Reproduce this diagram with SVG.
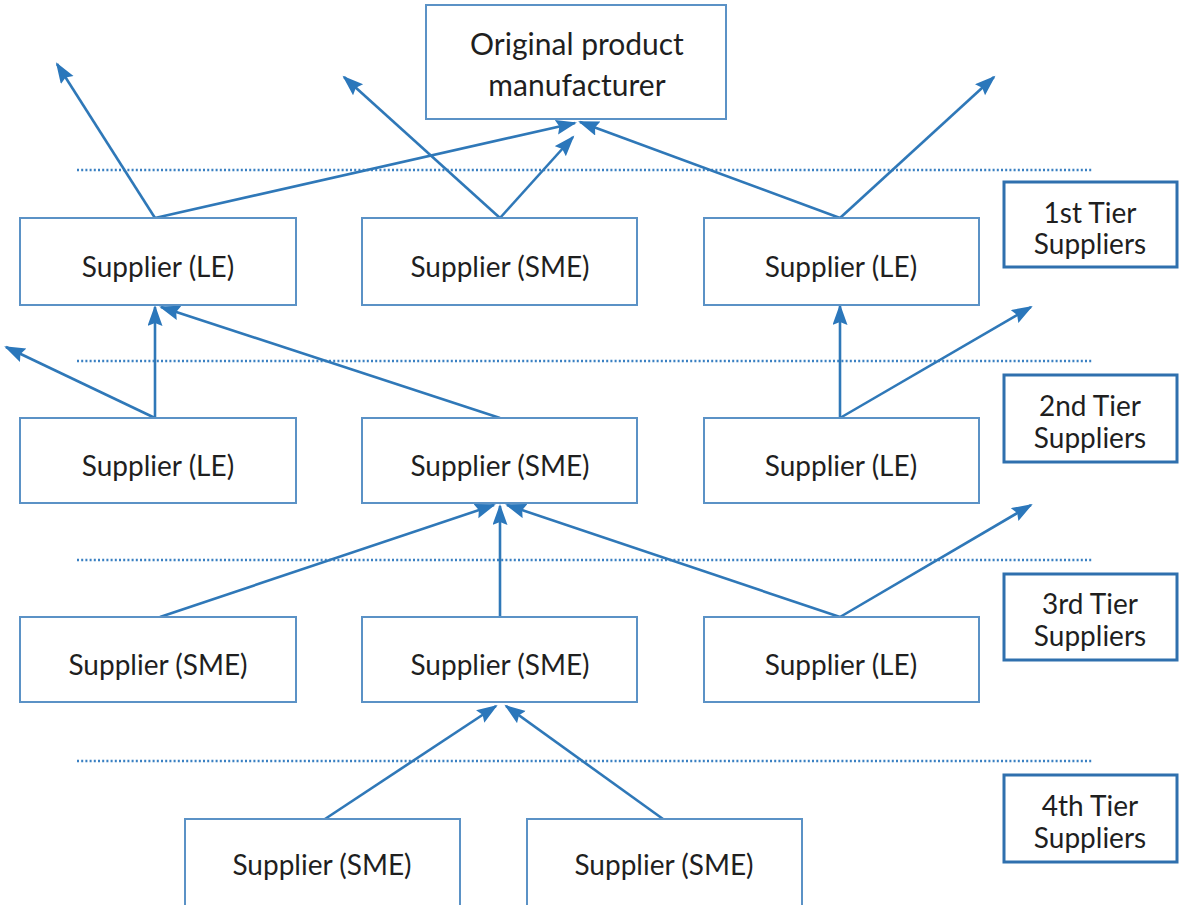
<svg xmlns="http://www.w3.org/2000/svg" width="1181" height="905" viewBox="0 0 1181 905">
<defs>
<marker id="ah" markerUnits="userSpaceOnUse" markerWidth="22" markerHeight="16" refX="19" refY="7.5" orient="auto">
<path d="M0,0 L21,7.5 L0,15 L3,7.5 z" fill="#2b77bb"/>
</marker>
<style>
.box{fill:#fff;stroke:#5b92c6;stroke-width:2}
.tier{fill:#fff;stroke:#2f70ae;stroke-width:3}
.t{font-family:Lato,"Open Sans","Liberation Sans",sans-serif;font-size:28px;fill:#1f1f1f;text-anchor:middle}
.big{font-size:30px}
.dot{stroke:#3a80c2;stroke-width:2.5;stroke-dasharray:2 2.2;fill:none}
.c{stroke:#2f78b8;stroke-width:2.6;fill:none;marker-end:url(#ah)}
</style>
</defs>
<rect width="1181" height="905" fill="#fff"/>
<g id="separators">
<line class="dot" x1="77" y1="170" x2="1093" y2="170"/>
<line class="dot" x1="77" y1="361" x2="1093" y2="361"/>
<line class="dot" x1="77" y1="560" x2="1093" y2="560"/>
<line class="dot" x1="77" y1="761" x2="1093" y2="761"/>
</g>
<g id="connectors">
<line class="c" x1="155" y1="218" x2="57" y2="64"/>
<line class="c" x1="155" y1="218" x2="575" y2="123"/>
<line class="c" x1="500" y1="218" x2="344" y2="77"/>
<line class="c" x1="500" y1="218" x2="573" y2="137"/>
<line class="c" x1="840" y1="218" x2="580" y2="122"/>
<line class="c" x1="840" y1="218" x2="994" y2="77"/>
<line class="c" x1="155" y1="418" x2="155" y2="307"/>
<line class="c" x1="155" y1="418" x2="6" y2="347"/>
<line class="c" x1="500" y1="418" x2="161" y2="307"/>
<line class="c" x1="840" y1="418" x2="840" y2="306"/>
<line class="c" x1="840" y1="418" x2="1031" y2="307"/>
<line class="c" x1="160" y1="617" x2="494" y2="505"/>
<line class="c" x1="500" y1="617" x2="500" y2="506"/>
<line class="c" x1="840" y1="617" x2="507" y2="505"/>
<line class="c" x1="840" y1="617" x2="1031" y2="505"/>
<line class="c" x1="325" y1="819" x2="496" y2="706"/>
<line class="c" x1="663" y1="819" x2="506" y2="706"/>
</g>
<g id="opm"><rect class="box" x="426" y="5" width="300" height="114"/><text class="t big" x="577" y="55">Original product</text><text class="t big" x="577" y="96">manufacturer</text></g>
<g id="t1a"><rect class="box" x="20" y="218" width="276" height="87"/><text class="t" x="158" y="277">Supplier (LE)</text></g>
<g id="t1b"><rect class="box" x="362" y="218" width="275" height="87"/><text class="t" x="500" y="277">Supplier (SME)</text></g>
<g id="t1c"><rect class="box" x="704" y="218" width="275" height="87"/><text class="t" x="841" y="277">Supplier (LE)</text></g>
<g id="t2a"><rect class="box" x="20" y="418" width="276" height="85"/><text class="t" x="158" y="476">Supplier (LE)</text></g>
<g id="t2b"><rect class="box" x="362" y="418" width="275" height="85"/><text class="t" x="500" y="476">Supplier (SME)</text></g>
<g id="t2c"><rect class="box" x="704" y="418" width="275" height="85"/><text class="t" x="841" y="476">Supplier (LE)</text></g>
<g id="t3a"><rect class="box" x="20" y="617" width="276" height="85"/><text class="t" x="158" y="675">Supplier (SME)</text></g>
<g id="t3b"><rect class="box" x="362" y="617" width="275" height="85"/><text class="t" x="500" y="675">Supplier (SME)</text></g>
<g id="t3c"><rect class="box" x="704" y="617" width="275" height="85"/><text class="t" x="841" y="675">Supplier (LE)</text></g>
<g id="t4a"><rect class="box" x="185" y="819" width="275" height="90"/><text class="t" x="322" y="875">Supplier (SME)</text></g>
<g id="t4b"><rect class="box" x="527" y="819" width="275" height="90"/><text class="t" x="664" y="875">Supplier (SME)</text></g>
<g id="tier1"><rect class="tier" x="1004" y="182" width="173" height="85"/><text class="t" x="1090" y="223">1st Tier</text><text class="t" x="1090" y="254">Suppliers</text></g>
<g id="tier2"><rect class="tier" x="1004" y="375" width="173" height="87"/><text class="t" x="1090" y="416">2nd Tier</text><text class="t" x="1090" y="448">Suppliers</text></g>
<g id="tier3"><rect class="tier" x="1004" y="574" width="173" height="86"/><text class="t" x="1090" y="614">3rd Tier</text><text class="t" x="1090" y="646">Suppliers</text></g>
<g id="tier4"><rect class="tier" x="1004" y="775" width="173" height="87"/><text class="t" x="1090" y="816">4th Tier</text><text class="t" x="1090" y="848">Suppliers</text></g>
</svg>
